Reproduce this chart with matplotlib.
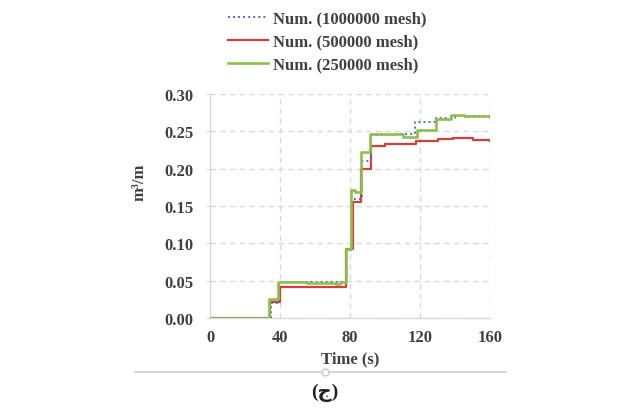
"""
Discharge per unit width over time for three mesh resolutions (mesh sensitivity check).
Step curves, Excel-like styling, legend stacked above the axes.
"""
import matplotlib

matplotlib.use("Agg")
import matplotlib.pyplot as plt
from matplotlib.lines import Line2D

# series breakpoints: time (s) and value (m3/m), held until the next breakpoint
t_fine = [0, 34.5, 39.0, 77.5, 81.0, 87.0, 91.8, 105.0, 117.0, 128.8, 140.0, 160.0]
q_fine = [0.0, 0.020, 0.048, 0.091, 0.160, 0.211, 0.245, 0.246, 0.262, 0.268, 0.271, 0.269]

t_mid = [0, 34.0, 39.7, 77.3, 81.6, 86.4, 91.7, 100.0, 117.8, 130.0, 139.0, 150.0, 160.0]
q_mid = [0.0, 0.022, 0.042, 0.092, 0.155, 0.200, 0.230, 0.233, 0.237, 0.240, 0.241, 0.238, 0.237]

t_coarse = [0, 33.5, 38.8, 55.0, 72.0, 74.0, 77.5, 80.7, 83.0, 86.4, 91.5, 100.0, 110.0,
            118.2, 128.9, 137.8, 145.0, 160.0]
q_coarse = [0.0, 0.025, 0.048, 0.047, 0.046, 0.048, 0.093, 0.172, 0.169, 0.222, 0.247, 0.247,
            0.243, 0.252, 0.266, 0.272, 0.271, 0.269]

labels = ["Num. (1000000 mesh)", "Num. (500000 mesh)", "Num. (250000 mesh)"]
x_ticks = [0, 40, 80, 120, 160]
y_ticks = [0.00, 0.05, 0.10, 0.15, 0.20, 0.25, 0.30]

SERIF = "Liberation Serif"
TEXT = "#404040"
GRID = "#d9d9d9"

fig = plt.figure(figsize=(6.22, 4.10), dpi=100)
ax = fig.add_axes([0.3384, 0.222, 0.4494, 0.546])

ax.plot(t_fine, q_fine, drawstyle="steps-post", color="#4472c4", lw=1.4,
        linestyle=(0, (1, 1.6)), label=labels[0], zorder=3)
ax.plot(t_mid, q_mid, drawstyle="steps-post", color="#d43f3a", lw=1.6,
        label=labels[1], zorder=2)
ax.plot(t_coarse, q_coarse, drawstyle="steps-post", color="#8dbf4e", lw=1.9,
        label=labels[2], zorder=4)

ax.set_xlim(0, 160)
ax.set_ylim(0, 0.30)
ax.set_xticks(x_ticks)
ax.set_yticks(y_ticks)
ax.set_xticklabels([str(v) for v in x_ticks])
ax.set_yticklabels([f"{v:.2f}" for v in y_ticks])
for lab in ax.get_xticklabels() + ax.get_yticklabels():
    lab.set_fontfamily(SERIF)
    lab.set_fontweight("bold")
    lab.set_fontsize(12)
    lab.set_color(TEXT)
ax.tick_params(axis="x", length=0, pad=8)
ax.tick_params(axis="y", length=3, color=GRID, pad=9)

ax.grid(True, color=GRID, lw=1.0, linestyle=(0, (4, 3)))
ax.set_axisbelow(True)
for side in ("top", "right"):
    ax.spines[side].set_visible(False)
for side in ("left", "bottom"):
    ax.spines[side].set_color(GRID)
    ax.spines[side].set_linewidth(1.0)

ax.set_xlabel("Time (s)", fontfamily=SERIF, fontweight="bold", fontsize=12, color=TEXT)
ax.xaxis.set_label_coords(0.5, -0.145)
ax.set_ylabel("m\u00b3/m", fontfamily=SERIF, fontweight="bold", fontsize=12, color=TEXT)
ax.yaxis.set_label_coords(-0.227, 0.61)

leg = fig.legend(loc="upper left", bbox_to_anchor=(0.3425, 1.008), frameon=False,
                 handlelength=2.4, handletextpad=0.3, labelspacing=0.42,
                 prop={"family": SERIF, "weight": "bold", "size": 12})
for txt in leg.get_texts():
    txt.set_color(TEXT)

# caption separator with its small anchor mark, then the panel label
fig.add_artist(Line2D([135 / 622, 506 / 622], [1 - 373 / 410, 1 - 373 / 410],
                      transform=fig.transFigure, color="#d0d0d0", lw=1.2))
fig.add_artist(Line2D([325 / 622], [1 - 373 / 410], transform=fig.transFigure,
                      marker="o", markersize=5, markerfacecolor="white",
                      markeredgecolor="#c8c8c8", lw=0))
fig.text(325 / 622, 1 - 393 / 410, "(\u062c)", ha="center", va="center", fontsize=14,
         fontweight="bold", color="#202020", family=[SERIF, "DejaVu Sans"])

fig.savefig("out.png", dpi=100)
